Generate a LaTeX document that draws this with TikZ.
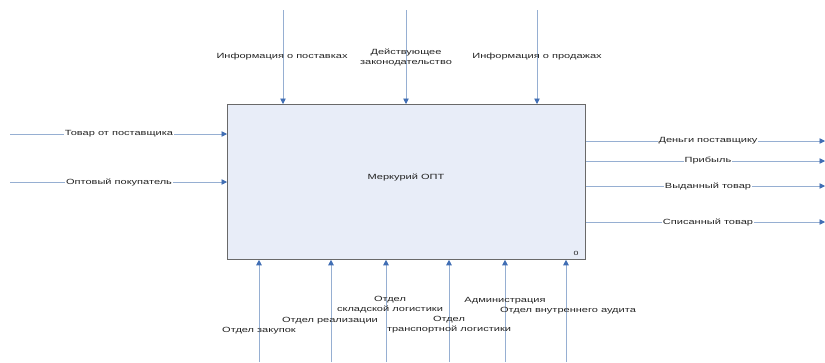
\documentclass[tikz,border=0pt]{standalone}
\usepackage{fontspec}
\setmainfont{Liberation Sans}[FakeStretch=1.47]
\usetikzlibrary{arrows.meta}
\definecolor{flowline}{RGB}{150,175,210}
\definecolor{tipblue}{RGB}{65,110,180}
\definecolor{boxfill}{RGB}{232,237,248}
\definecolor{boxedge}{RGB}{105,105,105}
\definecolor{txt}{RGB}{35,35,35}
\begin{document}
\begin{tikzpicture}[x=1pt,y=-1pt,
  flow/.style={draw=flowline,line width=0.7pt,-{Triangle[length=5.5pt,width=5.5pt,color=tipblue]}},
  lbl/.style={font=\fontsize{7.5}{10}\selectfont, text=txt, inner sep=1pt, align=center},
  hlbl/.style={lbl, fill=white},
]
\useasboundingbox (0,0) rectangle (825,362);
\node[draw=boxedge, fill=boxfill, line width=0.8pt, minimum width=358pt, minimum height=155pt, inner sep=0pt, anchor=north west] (box) at (227,104) {};
\node[lbl] (title) at (406,177) {Меркурий ОПТ};
\node[lbl, font=\fontsize{6}{7}\selectfont] (num) at (576,253) {0};
% top controls
\coordinate (ct1) at (283,10);
\coordinate (ct2) at (406,10);
\coordinate (ct3) at (537,10);
\draw[flow] (ct1) -- (ct1 |- box.north);
\draw[flow] (ct2) -- (ct2 |- box.north);
\draw[flow] (ct3) -- (ct3 |- box.north);
\node[lbl] (t1) at (282,57) {Информация о поставках};
\node[lbl] (t2) at (406,57) {Действующее\\законодательство};
\node[lbl] (t3) at (537,57) {Информация о продажах};
% left inputs
\coordinate (cl1) at (10,134);
\coordinate (cl2) at (10,182);
\draw[flow] (cl1) -- (cl1 -| box.west);
\draw[flow] (cl2) -- (cl2 -| box.west);
\node[hlbl] (l1) at (119,134) {Товар от поставщика};
\node[hlbl] (l2) at (119,182) {Оптовый покупатель};
% right outputs
\coordinate (cr1) at (825,141);
\coordinate (cr2) at (825,161);
\coordinate (cr3) at (825,186);
\coordinate (cr4) at (825,222);
\draw[flow] (cr1 -| box.east) -- (cr1);
\draw[flow] (cr2 -| box.east) -- (cr2);
\draw[flow] (cr3 -| box.east) -- (cr3);
\draw[flow] (cr4 -| box.east) -- (cr4);
\node[hlbl] (r1) at (708,141) {Деньги поставщику};
\node[hlbl] (r2) at (708,161) {Прибыль};
\node[hlbl] (r3) at (708,186) {Выданный товар};
\node[hlbl] (r4) at (708,222) {Списанный товар};
% bottom mechanisms
\coordinate (cb1) at (259,362);
\coordinate (cb2) at (331,362);
\coordinate (cb3) at (386,362);
\coordinate (cb4) at (449,362);
\coordinate (cb5) at (505,362);
\coordinate (cb6) at (566,362);
\draw[flow] (cb1) -- (cb1 |- box.south);
\draw[flow] (cb2) -- (cb2 |- box.south);
\draw[flow] (cb3) -- (cb3 |- box.south);
\draw[flow] (cb4) -- (cb4 |- box.south);
\draw[flow] (cb5) -- (cb5 |- box.south);
\draw[flow] (cb6) -- (cb6 |- box.south);
\node[lbl] (b1) at (259,331) {Отдел закупок};
\node[lbl] (b2) at (330,321) {Отдел реализации};
\node[lbl] (b3) at (390,305) {Отдел\\складской логистики};
\node[lbl] (b4) at (449,325) {Отдел\\транспортной логистики};
\node[lbl] (b5) at (505,301) {Администрация};
\node[lbl] (b6) at (568,311) {Отдел внутреннего аудита};
\end{tikzpicture}
\end{document}
